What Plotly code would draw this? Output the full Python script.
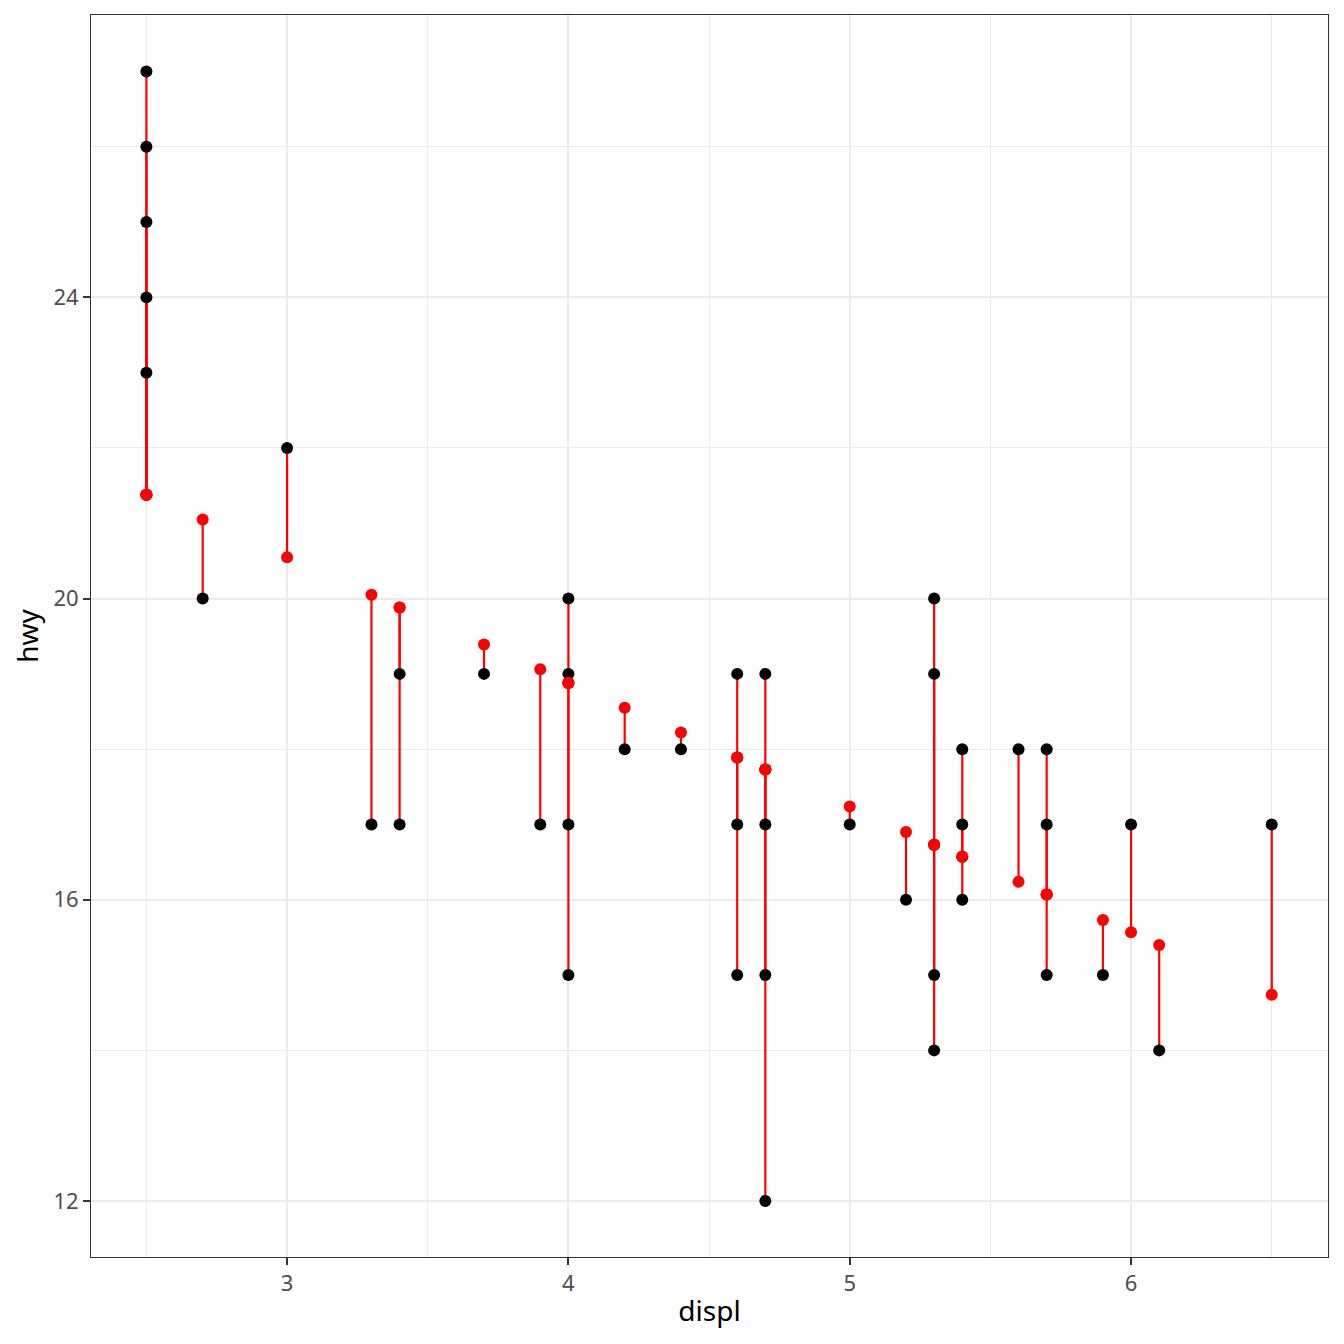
import plotly.graph_objects as go

# observed data (displ, hwy)
displ = [2.5, 2.5, 2.5, 2.5, 2.5,
         2.7, 3.0, 3.3, 3.4, 3.4, 3.7, 3.9,
         4.0, 4.0, 4.0, 4.0, 4.2, 4.4,
         4.6, 4.6, 4.6, 4.7, 4.7, 4.7, 4.7,
         5.0, 5.2, 5.3, 5.3, 5.3, 5.3,
         5.4, 5.4, 5.4, 5.6, 5.7, 5.7, 5.7,
         5.9, 6.0, 6.1, 6.5]
hwy = [27, 26, 25, 24, 23,
       20, 22, 17, 19, 17, 19, 17,
       20, 19, 17, 15, 18, 18,
       19, 17, 15, 19, 17, 15, 12,
       17, 16, 20, 19, 15, 14,
       18, 17, 16, 18, 18, 17, 15,
       15, 17, 14, 17]

# fitted values per distinct displ
fit_x = [2.5, 2.7, 3.0, 3.3, 3.4, 3.7, 3.9, 4.0, 4.2, 4.4, 4.6, 4.7,
         5.0, 5.2, 5.3, 5.4, 5.6, 5.7, 5.9, 6.0, 6.1, 6.5]
fit_y = [21.38, 21.05, 20.55, 20.05, 19.88, 19.39, 19.06, 18.88, 18.55, 18.22,
         17.89, 17.73, 17.24, 16.90, 16.73, 16.57, 16.24, 16.07, 15.73, 15.57,
         15.40, 14.74]

x_ticks = [3, 4, 5, 6]
y_ticks = [12, 16, 20, 24]

fit_map = dict(zip(fit_x, fit_y))
seg_x, seg_y = [], []
for xv, yv in zip(displ, hwy):
    seg_x += [xv, xv, None]
    seg_y += [yv, fit_map[xv], None]

fig = go.Figure()
fig.add_trace(go.Scatter(x=seg_x, y=seg_y, mode="lines",
                         line=dict(color="#ff0000", width=2.2), showlegend=False,
                         hoverinfo="skip"))
fig.add_trace(go.Scatter(x=displ, y=hwy, mode="markers",
                         marker=dict(color="black", size=12), showlegend=False))
pred_x = [xv for xv in displ]
pred_y = [fit_map[xv] for xv in displ]
fig.add_trace(go.Scatter(x=pred_x, y=pred_y, mode="markers",
                         marker=dict(color="#ff0000", size=12), showlegend=False))

axis_common = dict(
    showline=True, linecolor="#333333", linewidth=1, mirror=True,
    ticks="outside", ticklen=7, tickwidth=2, tickcolor="#333333",
    gridcolor="#ebebeb", gridwidth=2,
    minor=dict(showgrid=True, gridcolor="#ebebeb", gridwidth=1),
    zeroline=False,
    tickfont=dict(family="Noto Sans", size=22, color="#4d4d4d"),
    title_font=dict(family="Noto Sans", size=28, color="black"),
)

fig.update_xaxes(range=[2.303, 6.70], tickvals=x_ticks,
                 minor_tickvals=[2.5, 3.5, 4.5, 5.5, 6.5],
                 title_text="displ", title_standoff=4, **axis_common)
fig.update_yaxes(range=[11.256, 27.75], tickvals=y_ticks,
                 minor_tickvals=[14, 18, 22, 26],
                 title_text="hwy", title_standoff=6, **axis_common)

fig.update_layout(
    width=1336, height=1336,
    margin=dict(l=83, r=16, t=7, b=87),
    plot_bgcolor="white", paper_bgcolor="white",
    font=dict(family="Noto Sans"),
)

fig.write_html("out.html")
